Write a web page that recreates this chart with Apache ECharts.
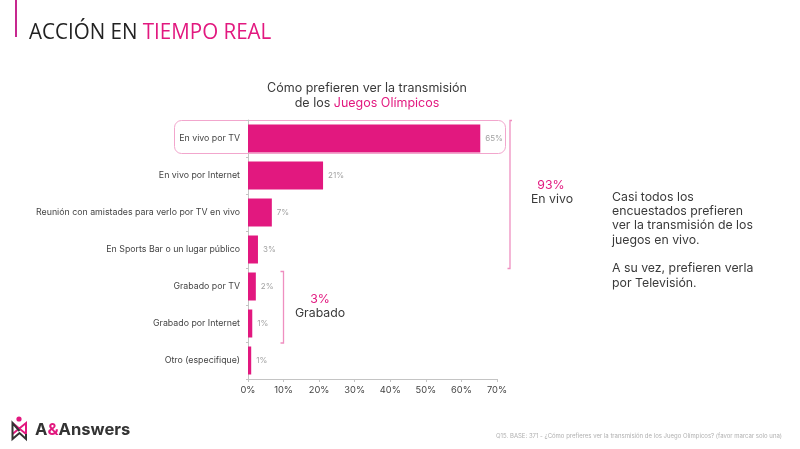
<!DOCTYPE html>
<html>
<head>
<meta charset="utf-8">
<style>html,body{margin:0;padding:0;background:#fff}#main{width:800px;height:449px}</style>
<script src="https://cdn.jsdelivr.net/npm/echarts@6/dist/echarts.min.js"></script>
</head>
<body>
<div id="main"></div>
<script>
const categories = ['En vivo por TV', 'En vivo por Internet', 'Reunión con amistades para verlo por TV en vivo', 'En Sports Bar o un lugar público', 'Grabado por TV', 'Grabado por Internet', 'Otro (especifique)']
const values = [65.3, 21.1, 6.7, 2.8, 2.2, 1.2, 0.9]
const valueLabels = ['65%', '21%', '7%', '3%', '2%', '1%', '1%']

const PINK = '#e2187f'
const BRACKET = '#ef8fc0'
const DARK = '#3a3a3a'
const FONT = 'Inter'

const charts = echarts.init(document.getElementById('main'))
charts.setOption({
  animation: false,
  backgroundColor: '#fff',
  grid: { left: 248, right: 303, top: 120, bottom: 70 },
  xAxis: {
    type: 'value',
    min: 0,
    max: 70,
    interval: 10,
    splitLine: { show: false },
    axisLine: { show: true, lineStyle: { color: '#c4c4c4' } },
    axisTick: { show: true, length: 3, lineStyle: { color: '#c4c4c4' } },
    axisLabel: { formatter: '{value}%', color: '#444', fontFamily: FONT, fontSize: 9.3, margin: 7 }
  },
  yAxis: {
    type: 'category',
    inverse: true,
    data: categories,
    axisLine: { show: true, lineStyle: { color: '#c4c4c4' } },
    axisTick: { show: true, length: 2, lineStyle: { color: '#c4c4c4' } },
    axisLabel: { color: '#444', fontFamily: FONT, fontSize: 8.8, margin: 8, padding: [2, 0, 0, 0] }
  },
  series: [{
    type: 'bar',
    data: values,
    barWidth: 28,
    itemStyle: { color: PINK },
    label: {
      show: true,
      position: 'right',
      distance: 5,
      color: '#a3a3a3',
      fontFamily: FONT,
      fontSize: 8,
      padding: [2, 0, 0, 0],
      formatter: p => valueLabels[p.dataIndex]
    }
  }],
  graphic: [
    // barra y titulo de la lamina
    { type: 'rect', shape: { x: 15, y: 0, width: 2, height: 37 }, style: { fill: '#c7288f' } },
    {
      type: 'text', x: 29, y: 22, scaleX: 0.935,
      style: {
        text: '{a|ACCIÓN EN }{b|TIEMPO REAL}',
        rich: {
          a: { fill: '#222', font: '22px "Open Sans"' },
          b: { fill: PINK, font: '22px "Open Sans"' }
        }
      }
    },
    // titulo del grafico
    {
      type: 'text', x: 367, y: 81,
      style: {
        text: '{a|Cómo prefieren ver la transmisión}\n{a|de los }{b|Juegos Olímpicos}',
        align: 'center',
        rich: {
          a: { fill: DARK, fontFamily: FONT, fontSize: 12.5, lineHeight: 15 },
          b: { fill: PINK, fontFamily: FONT, fontSize: 12.5, lineHeight: 15 }
        }
      }
    },
    // recuadro de En vivo por TV
    {
      type: 'rect', z: 0,
      shape: { x: 174.5, y: 120.5, width: 331, height: 33, r: 7 },
      style: { fill: 'none', stroke: '#f2a6cd', lineWidth: 1 }
    },
    // corchete En vivo
    {
      type: 'polyline',
      shape: { points: [[512, 120.5], [510, 120.5], [510, 268.5], [507.5, 268.5]] },
      style: { fill: 'none', stroke: BRACKET, lineWidth: 1.3 }
    },
    { type: 'text', x: 551, y: 179, style: { text: '93%', fill: PINK, fontFamily: FONT, fontSize: 12.3, align: 'center' } },
    { type: 'text', x: 552, y: 193, style: { text: 'En vivo', fill: DARK, fontFamily: FONT, fontSize: 12.3, align: 'center' } },
    // corchete Grabado
    {
      type: 'polyline',
      shape: { points: [[280.5, 271.5], [283.5, 271.5], [283.5, 343], [280.5, 343]] },
      style: { fill: 'none', stroke: BRACKET, lineWidth: 1.3 }
    },
    { type: 'text', x: 320, y: 293, style: { text: '3%', fill: PINK, fontFamily: FONT, fontSize: 12.3, align: 'center' } },
    { type: 'text', x: 320, y: 307, style: { text: 'Grabado', fill: DARK, fontFamily: FONT, fontSize: 12.3, align: 'center' } },
    // comentario
    {
      type: 'text', x: 612, y: 190,
      style: {
        text: 'Casi todos los\nencuestados prefieren\nver la transmisión de los\njuegos en vivo.\n\nA su vez, prefieren verla\npor Televisión.',
        fill: DARK, fontFamily: FONT, fontSize: 12.3, lineHeight: 14.3
      }
    },
    // logo
    { type: 'circle', shape: { cx: 19, cy: 419, r: 2.6 }, style: { fill: PINK } },
    {
      type: 'polyline',
      shape: { points: [[12.5, 423], [26, 434], [26, 423], [12.5, 434]] },
      style: { fill: 'none', stroke: PINK, lineWidth: 2 }
    },
    {
      type: 'polyline',
      shape: { points: [[19.5, 431], [12.5, 423], [12.5, 439], [19.5, 433], [26, 439], [26, 434]] },
      style: { fill: 'none', stroke: '#333', lineWidth: 2 }
    },
    {
      type: 'text', left: 35, top: 421,
      style: {
        text: '{a|A}{b|&}{a|Answers}',
        rich: {
          a: { fill: '#333', fontFamily: FONT, fontSize: 16.6, fontWeight: 700 },
          b: { fill: PINK, fontFamily: FONT, fontSize: 16.6, fontWeight: 700 }
        }
      }
    },
    // pie de pagina
    {
      type: 'text', x: 782, y: 433,
      style: {
        text: 'Q15. BASE: 371 - ¿Cómo prefieres ver la transmisión de los Juego Olímpicos? (favor marcar solo una)',
        fill: '#b0b0b0', fontFamily: FONT, fontSize: 6, align: 'right'
      }
    }
  ]
})
</script>
</body>
</html>
